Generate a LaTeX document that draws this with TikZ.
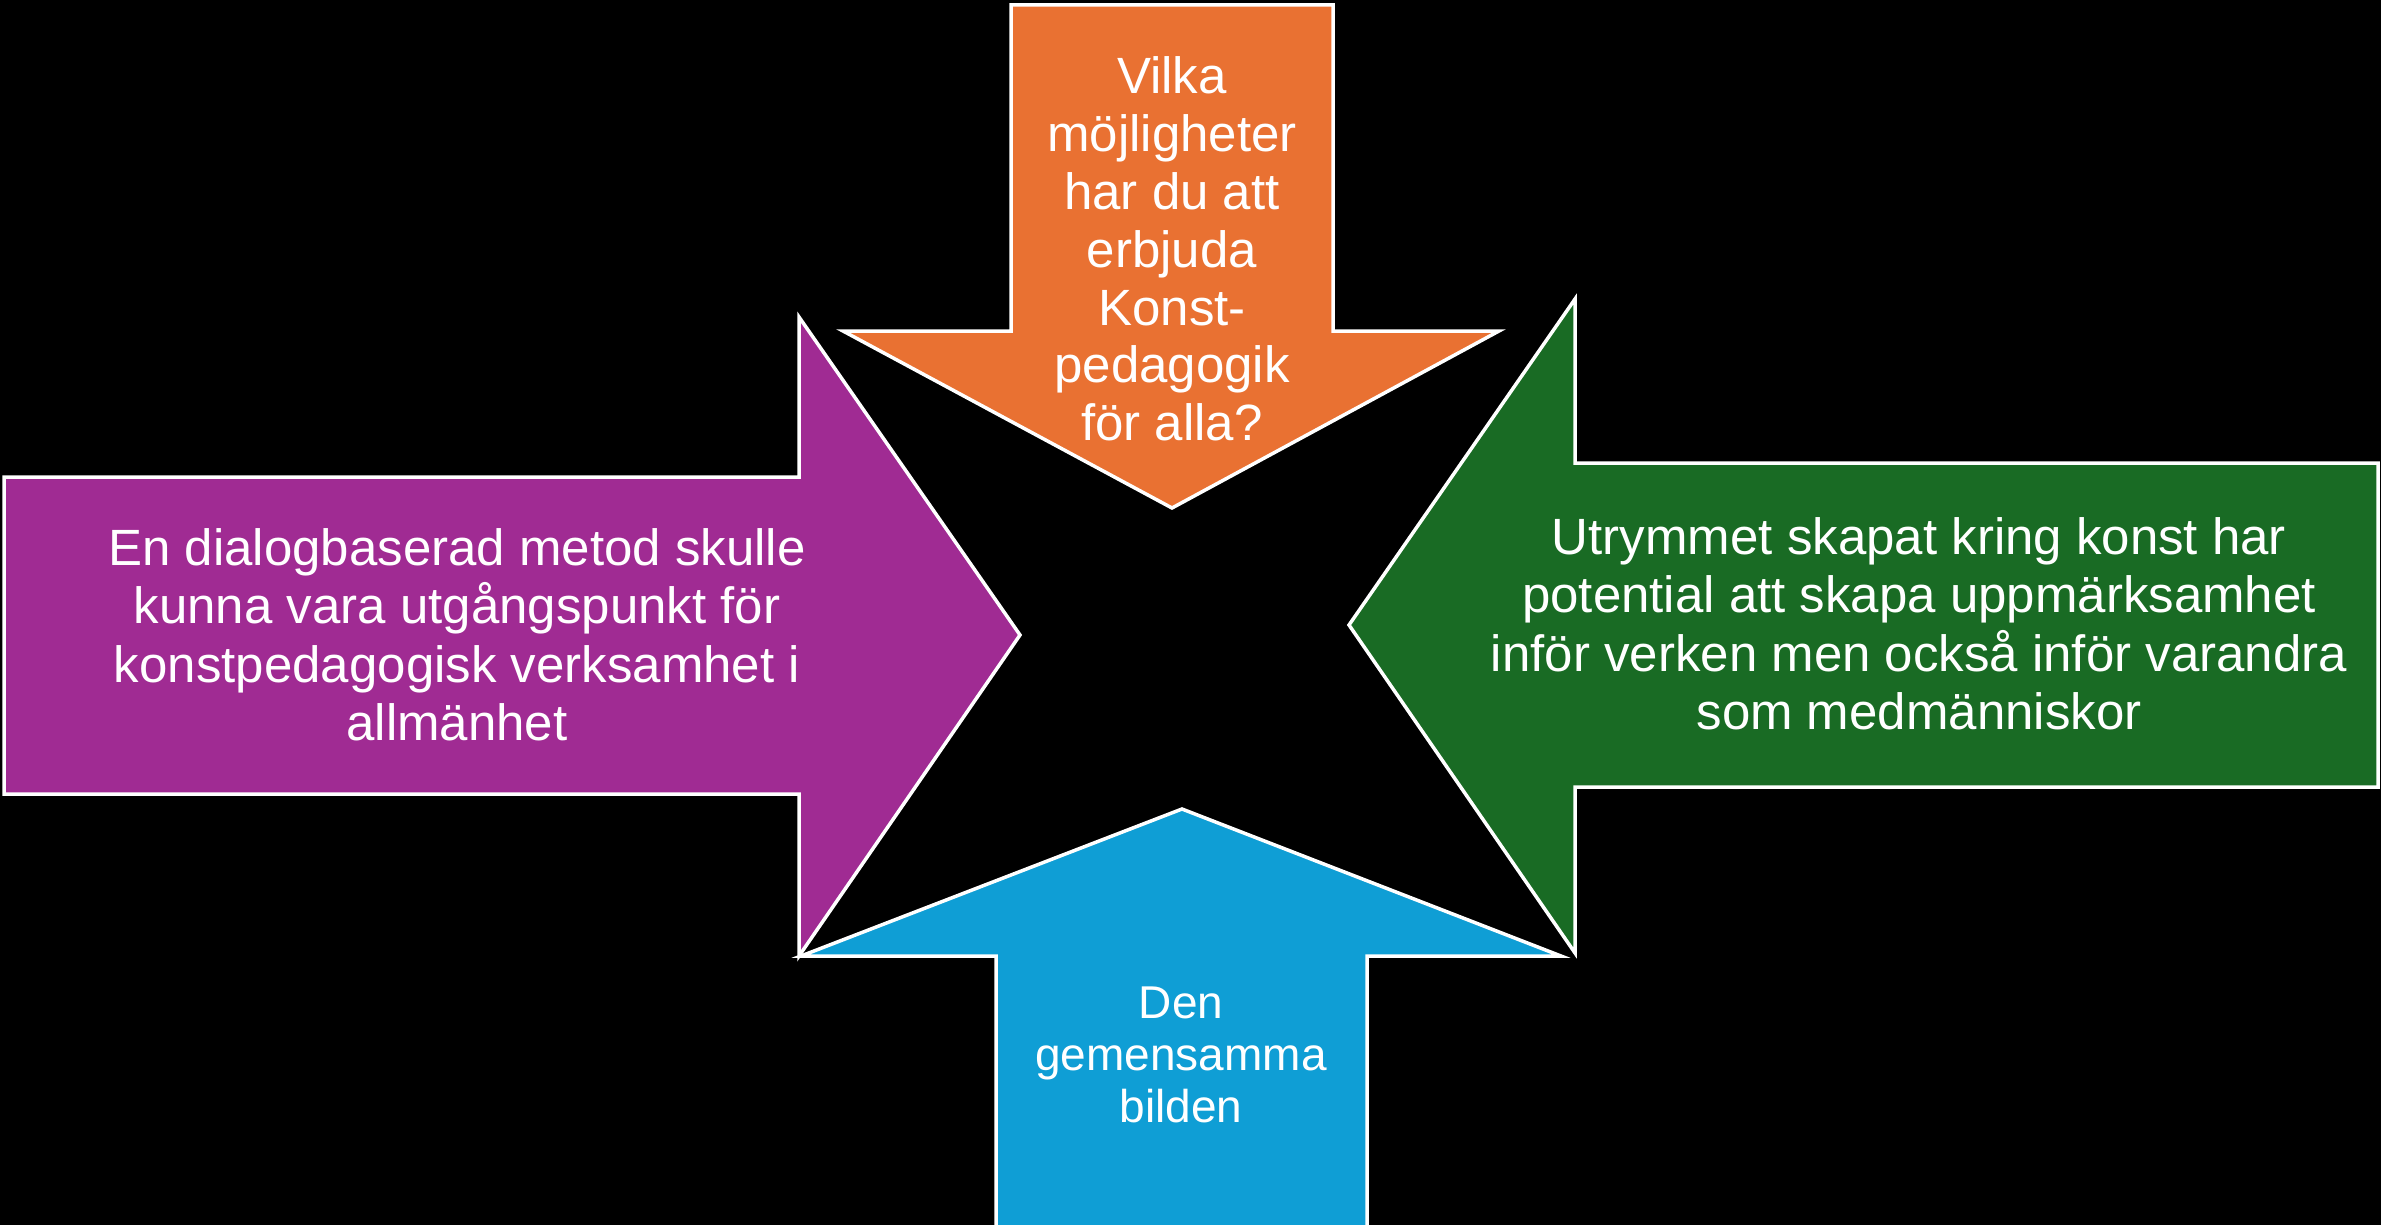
\documentclass[tikz,border=0pt]{standalone}
\usepackage{fontspec}
\setmainfont{Liberation Sans}
\definecolor{korange}{HTML}{E97132}
\definecolor{kpurple}{HTML}{A02B93}
\definecolor{kgreen}{HTML}{196B24}
\definecolor{kblue}{HTML}{0F9ED5}
\tikzstyle{pil} = [draw=white, line width=1.75pt, line join=miter]
\tikzstyle{txt} = [text=white, align=center, inner sep=0pt, font=\fontsize{25.5}{29.25}\selectfont]
\tikzstyle{smalltxt} = [txt, font=\fontsize{23}{26}\selectfont]

\begin{document}
\begin{tikzpicture}[x=0.5pt, y=-0.5pt]
	\fill[black] (0,0) rectangle (2381,1225);
	\useasboundingbox (0,0) rectangle (2381,1225);
	% arrows
	\draw [pil, fill=korange] (1011,5) -- (1333,5) -- (1333,331) -- (1499,331) -- (1172,508) -- (843,331) -- (1011,331) -- cycle;
	\draw [pil, fill=kpurple] (4,477) -- (799,477) -- (799,317) -- (1020,635) -- (799,956) -- (799,794) -- (4,794) -- cycle;
	\draw [pil, fill=kgreen] (2378,463) -- (1575,463) -- (1575,299) -- (1349,625) -- (1575,953) -- (1575,787) -- (2378,787) -- cycle;
	\draw [pil, fill=kblue] (996,1240) -- (996,956) -- (801,956) -- (1182,809) -- (1561,956) -- (1367,956) -- (1367,1240) -- cycle;
	% texts
	\node (fraga) [txt, font=\fontsize{25.5}{28.9}\selectfont] at (1172,249) {Vilka\\möjligheter\\har du att\\erbjuda\\Konst-\\pedagogik\\för alla?};
	\node (metod) [txt] at (457,635) {En dialogbaserad metod skulle\\kunna vara utgångspunkt för\\konstpedagogisk verksamhet i\\allmänhet};
	\node (rum) [txt] at (1919,624) {Utrymmet skapat kring konst har\\potential att skapa uppmärksamhet\\inför verken men också inför varandra\\som medmänniskor};
	\node (bild) [smalltxt] at (1181,1055) {Den\\gemensamma\\bilden};
\end{tikzpicture}
\end{document}
